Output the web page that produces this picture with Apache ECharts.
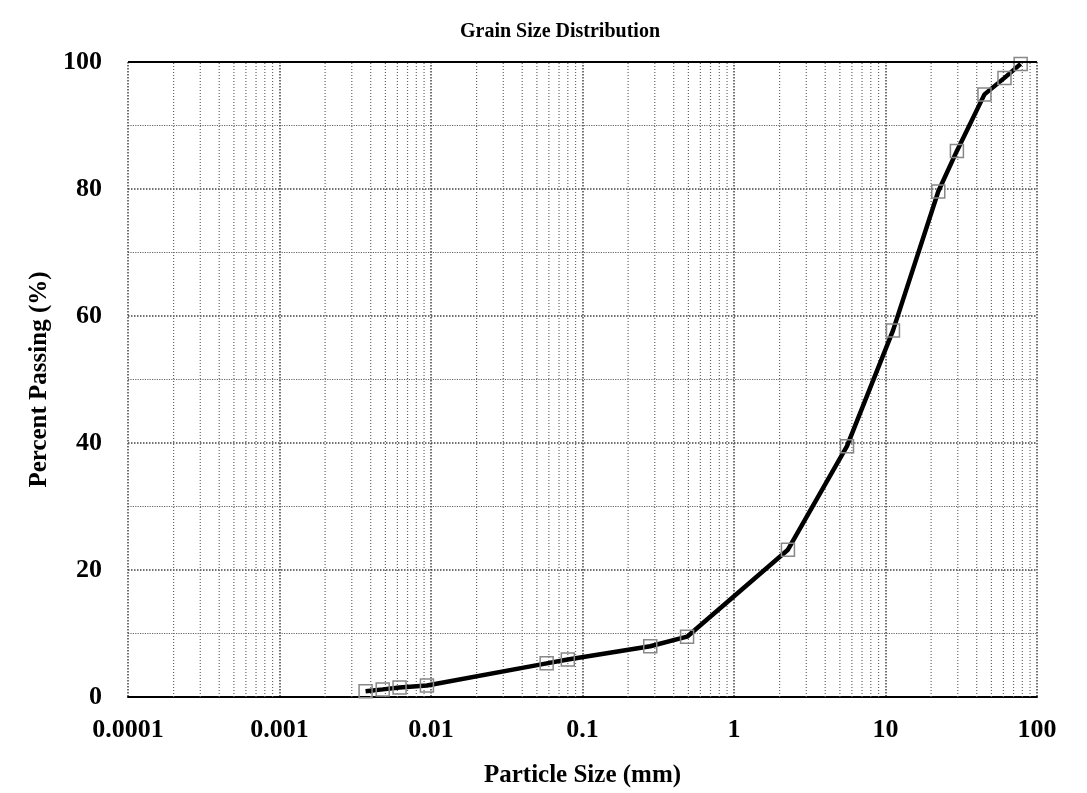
<!DOCTYPE html>
<html>
<head>
<meta charset="utf-8">
<script src="https://cdn.jsdelivr.net/npm/echarts@6/dist/echarts.min.js"></script>
<style>
  html, body { margin: 0; padding: 0; background: #fff; }
  #chart { width: 1087px; height: 793px; }
</style>
</head>
<body>
<div id="chart"></div>
<script>
// 粒径 (mm) 与 通过百分比 (%)
var particleSize = [0.0037, 0.0048, 0.0062, 0.0094, 0.058, 0.08, 0.28, 0.49, 2.27, 5.57, 11.2, 22.3, 29.6, 45, 61, 78];
var percentPassing = [0.9, 1.2, 1.5, 1.8, 5.3, 5.9, 8.0, 9.5, 23.2, 39.5, 57.7, 79.6, 86, 94.9, 97.5, 99.7];
var decades = [0.0001, 0.001, 0.01, 0.1, 1, 10];

var chart = echarts.init(document.getElementById('chart'));

// log 网格线 (每个数量级 2..9)
var gridX = [];
decades.forEach(function (d) {
  for (var k = 2; k <= 9; k++) {
    gridX.push([d * k]);
  }
});

var font = 'Liberation Serif';

var option = {
  animation: false,
  title: {
    text: 'Grain Size Distribution',
    left: 555,
    textAlign: 'center',
    top: 17,
    textStyle: { fontFamily: font, fontWeight: 'bold', fontSize: 20, color: '#000' }
  },
  grid: { left: 128, right: 50, top: 62, bottom: 90 },
  xAxis: {
    type: 'log',
    logBase: 10,
    min: 0.0001,
    max: 100,
    name: 'Particle Size (mm)',
    nameLocation: 'middle',
    nameGap: 66,
    nameTextStyle: { fontFamily: font, fontWeight: 'bold', fontSize: 25, color: '#000' },
    axisLine: { show: true, lineStyle: { color: '#000', width: 2 } },
    axisTick: { show: false },
    axisLabel: {
      fontFamily: font, fontWeight: 'bold', fontSize: 26, color: '#000', margin: 20,
      formatter: function (v) { return String(parseFloat(v.toPrecision(3))); }
    },
    splitLine: { show: true, lineStyle: { color: '#444', type: 'dotted', width: 1.5 } }
  },
  yAxis: {
    type: 'value',
    min: 0,
    max: 100,
    interval: 20,
    name: 'Percent Passing (%)',
    nameLocation: 'middle',
    nameGap: 76,
    nameTextStyle: { fontFamily: font, fontWeight: 'bold', fontSize: 25, color: '#000' },
    axisLine: { show: false },
    axisTick: { show: false },
    axisLabel: { fontFamily: font, fontWeight: 'bold', fontSize: 26, color: '#000', margin: 26 },
    splitLine: { show: true, lineStyle: { color: '#444', type: 'dotted', width: 1.5 } },
    minorTick: { show: false, splitNumber: 2 },
    minorSplitLine: { show: true, lineStyle: { color: '#666', type: 'dotted', width: 1.2 } }
  },
  series: [{
    name: 'grid',
    type: 'custom',
    silent: true,
    z: 1,
    data: gridX,
    renderItem: function (params, api) {
      var p0 = api.coord([api.value(0), 0]);
      var p1 = api.coord([api.value(0), 100]);
      return {
        type: 'line',
        shape: { x1: p0[0], y1: p0[1], x2: p1[0], y2: p1[1] },
        style: { stroke: '#666', lineWidth: 1.2, lineDash: [1, 2] }
      };
    }
  }, {
    name: 'Percent Passing',
    type: 'line',
    data: particleSize.map(function (x, i) { return [x, percentPassing[i]]; }),
    symbol: 'rect',
    symbolSize: 13,
    itemStyle: { color: 'rgba(255,255,255,0)', borderColor: '#888', borderWidth: 1.5 },
    lineStyle: { color: '#000', width: 4.5 },
    z: 3,
    markLine: {
      silent: true,
      symbol: 'none',
      label: { show: false },
      data: [{ yAxis: 100, lineStyle: { color: '#000', type: 'solid', width: 2 } }]
    }
  }]
};

chart.setOption(option);
</script>
</body>
</html>
